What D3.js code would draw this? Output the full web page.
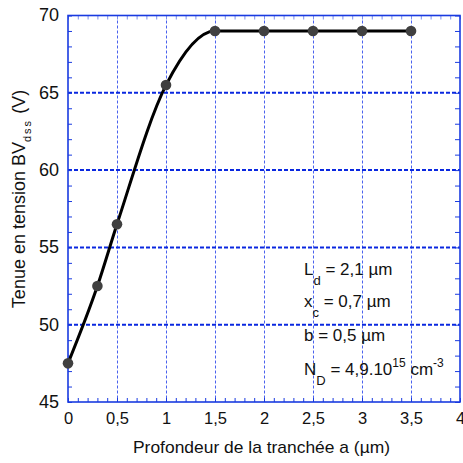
<!DOCTYPE html>
<html><head><meta charset="utf-8">
<script src="https://cdn.jsdelivr.net/npm/d3@7"></script>
<style>
html,body{margin:0;padding:0;background:#fff;}
text{font-family:"Liberation Sans",Arial,sans-serif;fill:#111;}
</style></head>
<body>
<svg id="chart" width="463" height="463"></svg>
<script>
// Data
const depth = [0, 0.3, 0.5, 1, 1.5, 2, 2.5, 3, 3.5];
const bvdss = [47.5, 52.5, 56.5, 65.5, 69, 69, 69, 69, 69];
const xTicks = [0, 0.5, 1, 1.5, 2, 2.5, 3, 3.5, 4];
const yTicks = [45, 50, 55, 60, 65, 70];
const xLabel = "Profondeur de la tranchée a (µm)";

const svg = d3.select("#chart");
const L = 68, R = 460, T = 15.5, B = 402;
const x = d3.scaleLinear().domain([0, 4]).range([L, R]);
const y = d3.scaleLinear().domain([45, 70]).range([B, T]);
const blue = "#1a3be0";
const fmt = d => String(d).replace(".", ",");

// grid vertical
svg.append("g").selectAll("line").data(xTicks.slice(1, -1)).join("line")
  .attr("x1", d => Math.round(x(d)) + 0.5).attr("x2", d => Math.round(x(d)) + 0.5)
  .attr("y1", T).attr("y2", B)
  .attr("stroke", "#4a62ee").attr("stroke-width", 1).attr("stroke-dasharray", "3,2");
// grid horizontal
svg.append("g").selectAll("line").data(yTicks.slice(1, -1)).join("line")
  .attr("x1", L).attr("x2", R)
  .attr("y1", d => y(d)).attr("y2", d => y(d))
  .attr("stroke", "#0a28e0").attr("stroke-width", 2).attr("stroke-dasharray", "4,2");

// minor ticks
const xMinor = d3.range(0, 40.01, 1).map(v => v / 10);
const yMinor = d3.range(45, 70.01, 1);
const tickStyle = g => g.select(".domain").remove();

svg.append("g").attr("transform", `translate(0,${B})`)
  .call(d3.axisBottom(x).tickValues(xMinor).tickSize(-4).tickFormat(""))
  .call(tickStyle).selectAll("line").attr("stroke", blue);
svg.append("g").attr("transform", `translate(0,${T})`)
  .call(d3.axisTop(x).tickValues(xMinor).tickSize(-4).tickFormat(""))
  .call(tickStyle).selectAll("line").attr("stroke", "#7f90f0");
svg.append("g").attr("transform", `translate(${L},0)`)
  .call(d3.axisLeft(y).tickValues(yMinor).tickSize(-4).tickFormat(""))
  .call(tickStyle).selectAll("line").attr("stroke", blue);
svg.append("g").attr("transform", `translate(${R},0)`)
  .call(d3.axisRight(y).tickValues(yMinor).tickSize(-5).tickFormat(""))
  .call(tickStyle).selectAll("line").attr("stroke", blue);

// tick labels
const xa = svg.append("g").attr("transform", `translate(0,${B})`)
  .call(d3.axisBottom(x).tickValues(xTicks).tickSize(0).tickPadding(10).tickFormat(fmt));
xa.select(".domain").remove();
xa.selectAll("text").style("font-size", "16.5px").attr("fill", "#111").style("font-family", '"Liberation Sans",Arial,sans-serif');
const ya = svg.append("g").attr("transform", `translate(${L},0)`)
  .call(d3.axisLeft(y).tickValues(yTicks).tickSize(0).tickPadding(9).tickFormat(fmt));
ya.select(".domain").remove();
ya.selectAll("text").style("font-size", "18px").attr("fill", "#111").attr("dy", "0.3em").style("font-family", '"Liberation Sans",Arial,sans-serif');

// frame
svg.append("rect").attr("x", L).attr("y", T).attr("width", R - L).attr("height", B - T)
  .attr("fill", "none").attr("stroke", blue).attr("stroke-width", 1.6);

// curve
const pts = depth.map((d, i) => [d, bvdss[i]]);
svg.append("path").datum(pts)
  .attr("d", d3.line().x(d => x(d[0])).y(d => y(d[1])).curve(d3.curveMonotoneX))
  .attr("fill", "none").attr("stroke", "#000").attr("stroke-width", 3);
svg.append("g").selectAll("circle").data(pts).join("circle")
  .attr("cx", d => x(d[0])).attr("cy", d => y(d[1])).attr("r", 5.3).attr("fill", "#404040");

// axis titles
svg.append("text").attr("x", 261.5).attr("y", 453).attr("text-anchor", "middle")
  .style("font-size", "17px").attr("textLength", 257).attr("lengthAdjust", "spacingAndGlyphs").text(xLabel);
const yl = svg.append("text").attr("transform", "translate(25,199) rotate(-90)")
  .attr("text-anchor", "middle").style("font-size", "18px");
yl.append("tspan").text("Tenue en tension BV");
yl.append("tspan").attr("dy", 6).style("font-size", "11px").attr("letter-spacing", "2").text("dss");
yl.append("tspan").attr("dy", -6).text(" (V)");

// annotations
const ann = svg.append("g").style("font-size", "17px");
function line(yy, parts) {
  const t = ann.append("text").attr("x", 304).attr("y", yy);
  let off = 0;
  parts.forEach(p => {
    const s = t.append("tspan").text(p[0]);
    const sh = p[1] || 0;
    if (sh !== off) { s.attr("dy", sh - off); off = sh; }
    if (p[2]) s.style("font-size", p[2] + "px");
  });
}
line(275, [["L"], ["d", 10, 13], [" = 2,1 µm", 0]]);
line(307, [["x"], ["c", 10, 13], [" = 0,7 µm", 0]]);
line(341, [["b = 0,5 µm"]]);
line(375, [["N"], ["D", 10, 13], [" = 4,9.10", 0], ["15", -8, 12], [" cm", 0], ["-3", -8, 12]]);
</script>
</body></html>
